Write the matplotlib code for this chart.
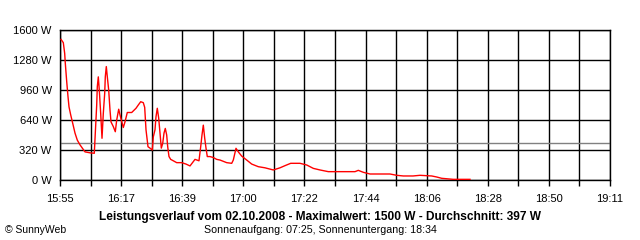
import matplotlib
matplotlib.use("Agg")
import matplotlib.pyplot as plt

# minutes after 15:55 and power in W
minutes = [0.36, 1.18, 1.67, 1.89, 2.39, 2.85, 3.21, 3.81, 4.53, 5.35, 6.17, 7.13,
           8.91, 10.69, 12.22, 12.72, 13.08, 13.29, 13.65, 14.00, 14.50, 14.97,
           15.43, 15.93, 16.14, 16.50, 16.86, 17.35, 17.82, 18.17, 18.99, 19.71,
           20.21, 20.92, 21.38, 21.85, 22.56, 23.16, 23.98, 25.55, 27.08, 27.90,
           28.76, 29.68, 30.18, 30.65, 31.36, 32.07, 32.89, 33.25, 33.85, 34.21,
           34.67, 35.17, 35.64, 36.10, 36.60, 37.06, 37.52, 38.02, 38.38, 38.84,
           39.45, 40.37, 41.59, 43.37, 44.90, 46.33, 48.11, 49.53, 50.14, 50.60,
           51.07, 51.57, 52.03, 52.49, 53.45, 54.63, 55.84, 57.02, 59.40, 61.19,
           61.76, 62.72, 63.54, 64.75, 66.53, 68.31, 70.67, 73.05, 76.01, 78.40,
           80.18, 82.21, 85.53, 87.92, 90.27, 92.66, 95.61, 99.78, 105.13, 106.30,
           108.09, 110.47, 117.60, 119.99, 122.34, 125.81, 128.29, 132.46, 134.24,
           136.02, 140.15, 146.11]
watts = [1500, 1465, 1350, 1245, 1050, 890, 780, 695, 605, 500, 425, 375,
         300, 290, 285, 585, 800, 995, 1100, 960, 710, 445,
         710, 925, 1100, 1210, 1100, 960, 745, 620, 570, 515,
         640, 755, 695, 640, 560, 620, 720, 720, 765, 800,
         835, 825, 775, 535, 355, 340, 320, 460, 535, 675,
         765, 660, 500, 340, 390, 500, 550, 480, 355, 250,
         220, 205, 185, 185, 170, 150, 220, 205, 355, 480,
         585, 445, 340, 250, 250, 240, 220, 213, 185, 178,
         213, 338, 300, 255, 213, 170, 142, 130, 107, 130,
         153, 178, 178, 160, 124, 107, 89, 89, 89, 103,
         82, 64, 64, 50, 43, 43, 50, 43, 32,
         18, 7, 7]
average = 397

tick_labels = ["15:55", "16:17", "16:39", "17:00", "17:22", "17:44",
               "18:06", "18:28", "18:50", "19:11"]
y_ticks = [0, 320, 640, 960, 1280, 1600]

total = 196.0
step = total / 18

fig = plt.figure(figsize=(6.4, 2.4), dpi=100)
ax = fig.add_axes([60 / 640, 60 / 240, 550 / 640, 150 / 240])

ax.plot(minutes, watts, color="red", lw=1.0, zorder=3)
ax.axhline(average, color="#808080", lw=1.0, zorder=2)

ax.set_xlim(0, total)
ax.set_ylim(0, 1600)
ax.set_xticks([i * 2 * step for i in range(len(tick_labels))])
ax.set_xticklabels(tick_labels)
ax.set_xticks([(2 * i + 1) * step for i in range(9)], minor=True)
ax.set_yticks(y_ticks)
ax.set_yticklabels([f"{v} W" for v in y_ticks])

ax.grid(True, which="both", color="black", lw=1.0)
ax.set_axisbelow(True)
for s in ax.spines.values():
    s.set_color("black")
    s.set_linewidth(1.0)

ax.tick_params(axis="x", which="both", length=4, width=1, color="black",
               pad=6, labelsize=8)
ax.tick_params(axis="y", length=0, pad=6, labelsize=8)
for lab in ax.get_xticklabels() + ax.get_yticklabels():
    lab.set_family("Liberation Sans")

fig.text(0.5, 1 - 217 / 240, "Leistungsverlauf vom 02.10.2008 - Maximalwert: 1500 W - Durchschnitt: 397 W",
         ha="center", va="center", fontsize=8.6, fontweight="bold", family="Liberation Sans")
fig.text(0.5, 1 - 230 / 240, "Sonnenaufgang: 07:25, Sonnenuntergang: 18:34",
         ha="center", va="center", fontsize=7.7, family="Liberation Sans")
fig.text(5 / 640, 1 - 230 / 240, "© SunnyWeb", ha="left", va="center",
         fontsize=7.5, family="Liberation Sans")

fig.savefig("out.png", dpi=100, facecolor="white")
